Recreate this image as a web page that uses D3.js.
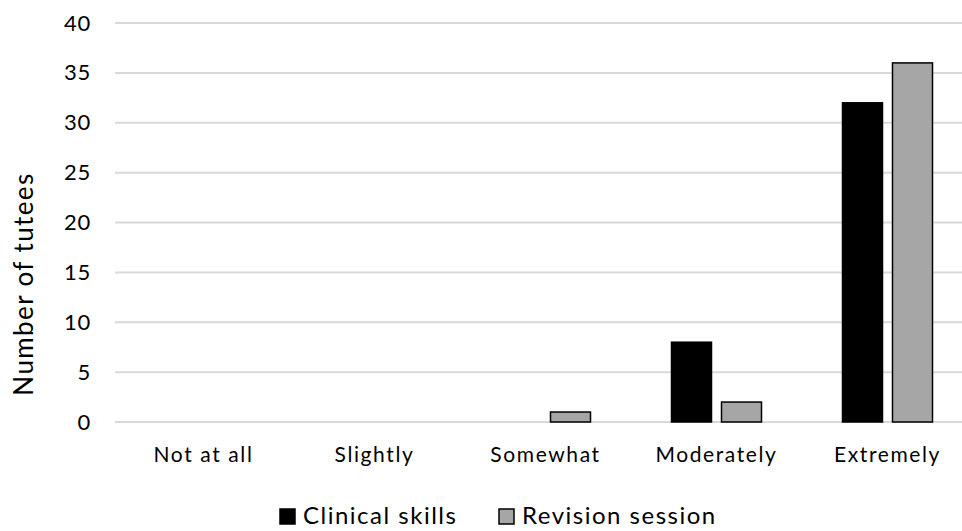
<!DOCTYPE html>
<html>
<head>
<meta charset="utf-8">
<script src="https://cdn.jsdelivr.net/npm/d3@7"></script>
<style>
  body { margin: 0; background: #fff; }
  svg text { font-family: "Lato", "Open Sans", sans-serif; fill: #000; }
</style>
</head>
<body>
<div id="chart"></div>
<script>
// data
let categories = ["Not at all", "Slightly", "Somewhat", "Moderately", "Extremely"];
let seriesNames = ["Clinical skills", "Revision session"];
let clinicalSkills = [0, 0, 0, 8, 32];
let revisionSession = [0, 0, 1, 2, 36];
let yTicks = [0, 5, 10, 15, 20, 25, 30, 35, 40];

let colors = ["#000000", "#a6a6a6"];

let width = 962, height = 531;
let margin = {top: 23, right: -8, bottom: 109, left: 115};
let innerW = width - margin.left - margin.right;
let innerH = height - margin.top - margin.bottom;

let svg = d3.select("#chart")
    .append("svg")
    .attr("width", width)
    .attr("height", height);

let g = svg.append("g")
    .attr("transform", `translate(${margin.left},${margin.top})`);

// band range nudged right a few px to line up with the original
let xScale = d3.scaleBand()
    .domain(categories)
    .range([3, innerW + 3])
    .paddingInner(0)
    .paddingOuter(0);

let yScale = d3.scaleLinear()
    .domain([0, 40])
    .range([innerH, 0]);

// gridlines
g.selectAll(".grid")
    .data(yTicks)
    .enter()
    .append("line")
    .attr("class", "grid")
    .attr("x1", 0)
    .attr("x2", innerW)
    .attr("y1", d => yScale(d))
    .attr("y2", d => yScale(d))
    .attr("stroke", "#d9d9d9")
    .attr("stroke-width", 2);

// y axis
let yAxis = d3.axisLeft(yScale)
    .tickValues(yTicks)
    .tickSize(0)
    .tickPadding(24);

g.append("g")
    .attr("class", "y-axis")
    .call(yAxis)
    .call(a => a.select(".domain").remove())
    .selectAll("text")
    .attr("font-size", 22)
    .attr("letter-spacing", 0.8);

// x axis
let xAxis = d3.axisBottom(xScale)
    .tickSize(0)
    .tickPadding(25);

g.append("g")
    .attr("class", "x-axis")
    .attr("transform", `translate(0,${innerH})`)
    .call(xAxis)
    .call(a => a.select(".domain").remove())
    .selectAll("text")
    .attr("font-size", 21)
    .attr("letter-spacing", 1.6);

// bars
let barW = 40, gap = 10;
let series = [clinicalSkills, revisionSession];

series.forEach((vals, si) => {
    g.selectAll(".bar" + si)
        .data(vals)
        .enter()
        .append("rect")
        .attr("class", "bar" + si)
        .attr("x", (d, i) => xScale(categories[i]) + xScale.bandwidth() / 2 - barW - gap / 2 + si * (barW + gap))
        .attr("y", d => yScale(d))
        .attr("width", barW)
        .attr("height", d => innerH - yScale(d))
        .attr("fill", colors[si])
        .attr("stroke", d => d > 0 ? "#000" : "none")
        .attr("stroke-width", 1.5);
});

// y axis title
svg.append("text")
    .attr("transform", `translate(33,${284}) rotate(-90)`)
    .attr("text-anchor", "middle")
    .attr("font-size", 26)
    .attr("letter-spacing", 1.4)
    .text("Number of tutees");

// legend
let legendX = [280, 499];
let legend = svg.append("g");
seriesNames.forEach((name, i) => {
    legend.append("rect")
        .attr("x", legendX[i])
        .attr("y", 509)
        .attr("width", 15)
        .attr("height", 15)
        .attr("fill", colors[i])
        .attr("stroke", "#000")
        .attr("stroke-width", 1.5);
    legend.append("text")
        .attr("x", legendX[i] + 23)
        .attr("y", 524)
        .attr("font-size", 24)
        .attr("letter-spacing", 1.5)
        .text(name);
});
</script>
</body>
</html>
